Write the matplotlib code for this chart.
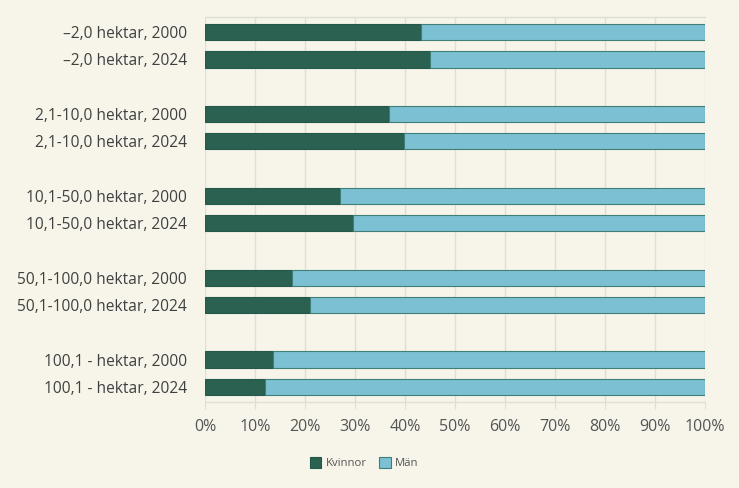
import numpy as np
import matplotlib
matplotlib.use('Agg')
import matplotlib.pyplot as plt
from matplotlib.ticker import PercentFormatter

# Data (share of women, percent)
labels = ['–2,0 hektar, 2000', '–2,0 hektar, 2024',
          '2,1-10,0 hektar, 2000', '2,1-10,0 hektar, 2024',
          '10,1-50,0 hektar, 2000', '10,1-50,0 hektar, 2024',
          '50,1-100,0 hektar, 2000', '50,1-100,0 hektar, 2024',
          '100,1 - hektar, 2000', '100,1 - hektar, 2024']
kvinnor = [43.1, 44.9, 36.8, 39.7, 26.9, 29.6, 17.3, 20.9, 13.5, 11.9]
man = [100 - k for k in kvinnor]

bg = '#f7f5ea'
dark = '#2b6150'
light = '#7cc0d4'
txt = '#404040'

plt.rcParams['font.family'] = ['Open Sans', 'DejaVu Sans']

fig = plt.figure(figsize=(7.39, 4.88), dpi=100, facecolor=bg)
ax = fig.add_axes([205 / 739, 1 - 402 / 488, 500 / 739, 385 / 488])
ax.set_facecolor(bg)

# leave an empty slot between the size groups
pos = []
for i in range(len(labels)):
    pos.append(i + i // 2)
pos = np.array(pos)

h = 0.6
ax.barh(pos, kvinnor, height=h, color=dark, edgecolor='#24584a',
        linewidth=0.8, label='Kvinnor', zorder=3)
ax.barh(pos, man, left=kvinnor, height=h, color=light, edgecolor='#3f7f78',
        linewidth=0.8, label='Män', zorder=3)

ax.set_xlim(0, 100)
ax.set_ylim(pos[-1] + 0.55, -0.55)
ax.set_yticks(pos)
ax.set_yticklabels(labels)
ax.set_xticks(np.arange(0, 101, 10))
ax.xaxis.set_major_formatter(PercentFormatter(decimals=0))

ax.grid(axis='x', color='#e0dfd6', linewidth=1, zorder=0)
for s in ['left', 'right']:
    ax.spines[s].set_visible(False)
for s in ['top', 'bottom']:
    ax.spines[s].set_color('#e0dfd6')
    ax.spines[s].set_linewidth(1)
ax.tick_params(axis='y', length=0, pad=13, labelsize=11.2, labelcolor=txt)
ax.tick_params(axis='x', length=5, color='#e0dfd6', pad=7, labelsize=11.5,
               labelcolor='#555555')

leg = fig.legend(loc='center', bbox_to_anchor=(0.4926, 0.051), ncol=2,
                 frameon=False, fontsize=8.2, handlelength=1.05, handleheight=1.05,
                 handletextpad=0.35, columnspacing=1.1, labelcolor='#555555')

fig.savefig('out.png', dpi=100, facecolor=bg)
